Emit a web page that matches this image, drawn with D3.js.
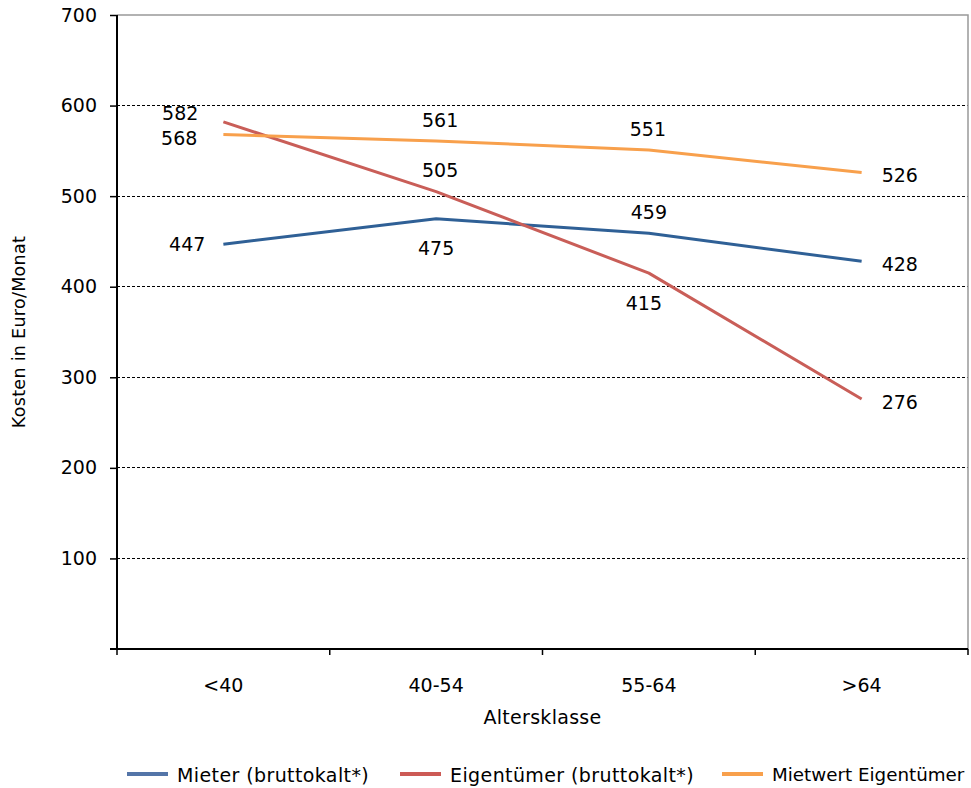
<!DOCTYPE html>
<html><head><meta charset="utf-8">
<script src="https://cdn.jsdelivr.net/npm/d3@7"></script>
<style>body{margin:0;background:#fff}svg{display:block;font-family:"DejaVu Sans",sans-serif}</style>
</head><body>
<svg id="c" width="971" height="788"></svg>
<script>
const categories = ["<40", "40-54", "55-64", ">64"];
const mieter = [447, 475, 459, 428];
const eigentuemer = [582, 505, 415, 276];
const mietwert = [568, 561, 551, 526];
const yTicks = [100, 200, 300, 400, 500, 600, 700];
const seriesNames = ["Mieter (bruttokalt*)", "Eigentümer (bruttokalt*)", "Mietwert Eigentümer"];
const lineColors = ["#2f6096", "#c95e58", "#f8a04c"];
const legendColors = ["#5475a8", "#cc5a55", "#f8a04c"];
// label placement codes per series / point
const placements = [
  ["left", "below", "above", "right"],
  ["leftHigh", "above", "below", "right"],
  ["leftLow", "above", "above", "right"]
];
const series = [mieter, eigentuemer, mietwert];

const svg = d3.select("#c");
const L = 117, R = 968, T = 15, B = 649;
const x = d3.scaleBand().domain(categories).range([L, R]).padding(0);
const y = d3.scaleLinear().domain([0, 700]).range([B, T]);
const fs = 19;

// gridlines
svg.append("g").selectAll("line").data(yTicks.filter(d => d < 700)).join("line")
  .attr("x1", L).attr("x2", R).attr("y1", d => y(d)).attr("y2", d => y(d))
  .attr("stroke", "#000").attr("stroke-width", 1).attr("stroke-dasharray", "3,2")
  .attr("shape-rendering", "crispEdges");
// top/right border
svg.append("path").attr("d", `M${L},${y(700)}H${R}V${B}`).attr("fill", "none")
  .attr("stroke", "#999").attr("stroke-width", 1.5);

// y axis
const yAxis = d3.axisLeft(y).tickValues(yTicks).tickSize(7).tickSizeOuter(0).tickPadding(13);
const gy = svg.append("g").attr("transform", `translate(${L},0)`).call(yAxis);
gy.select(".domain").attr("stroke", "#000").attr("stroke-width", 2).attr("d", `M0,${B}V${T}`);
gy.selectAll(".tick line").attr("stroke", "#000").attr("stroke-width", 1.5);
gy.selectAll(".tick text").attr("font-size", fs).attr("font-family", "DejaVu Sans").attr("fill", "#000");

// x axis
const xAxis = d3.axisBottom(x).tickSize(0).tickPadding(30);
const gx = svg.append("g").attr("transform", `translate(0,${B})`).call(xAxis);
gx.select(".domain").attr("stroke", "#000").attr("stroke-width", 2).attr("d", `M${L-7},0H${R}`);
gx.selectAll(".tick text").attr("font-size", fs).attr("font-family", "DejaVu Sans").attr("fill", "#000");
// x tick marks at band boundaries
const bounds = categories.map(c => x(c)).concat([x(categories[categories.length-1]) + x.bandwidth()]);
svg.append("g").selectAll("line").data(bounds).join("line")
  .attr("x1", d => d).attr("x2", d => d).attr("y1", B).attr("y2", B + 6)
  .attr("stroke", "#000").attr("stroke-width", 1.5);

// axis titles
svg.append("text").attr("x", (L + R) / 2).attr("y", 724).attr("text-anchor", "middle")
  .attr("font-size", fs).attr("letter-spacing", 0.3).text("Altersklasse");
svg.append("text").attr("transform", `translate(25,${(T + B) / 2}) rotate(-90)`)
  .attr("text-anchor", "middle").attr("font-size", 17.5).attr("letter-spacing", 0.3).text("Kosten in Euro/Monat");

// lines
const cx = c => x(c) + x.bandwidth() / 2;
const line = d3.line().x((d, i) => cx(categories[i])).y(d => y(d));
series.forEach((s, k) => {
  svg.append("path").datum(s).attr("d", line).attr("fill", "none")
    .attr("stroke", lineColors[k]).attr("stroke-width", 3).attr("stroke-linejoin", "round");
});

// labels
series.forEach((s, k) => {
  s.forEach((v, i) => {
    const px = cx(categories[i]), py = y(v);
    const p = placements[k][i];
    let tx = px, ty = py, anchor = "middle";
    if (p === "left") { tx = px - 18; anchor = "end"; ty = py; }
    else if (p === "leftHigh") { tx = px - 25; anchor = "end"; ty = py - 9; }
    else if (p === "leftLow") { tx = px - 26; anchor = "end"; ty = py + 4; }
    else if (p === "right") { tx = px + 20; anchor = "start"; ty = py + 3; }
    else if (p === "above") { ty = py - 21; tx = px + (k === 0 ? 0 : 4 - (i === 2 ? 5 : 0)); }
    else if (p === "below") { ty = py + 30; tx = px - (k === 1 ? 5 : 0); }
    svg.append("text").attr("x", tx).attr("y", ty).attr("dy", "0.35em")
      .attr("text-anchor", anchor).attr("font-size", fs).attr("fill", "#000").text(v);
  });
});

// legend
const legX = [127, 400, 722];
const legSpacing = [0.4, 0.4, 0];
const leg = svg.append("g");
seriesNames.forEach((n, k) => {
  leg.append("line").attr("x1", legX[k]).attr("x2", legX[k] + 41).attr("y1", 774).attr("y2", 774)
    .attr("stroke", legendColors[k]).attr("stroke-width", 4);
  leg.append("text").attr("x", legX[k] + 50).attr("y", 775).attr("dy", "0.35em")
    .attr("font-size", k === 2 ? 18.3 : fs).attr("letter-spacing", legSpacing[k]).text(n);
});
</script>
</body></html>
